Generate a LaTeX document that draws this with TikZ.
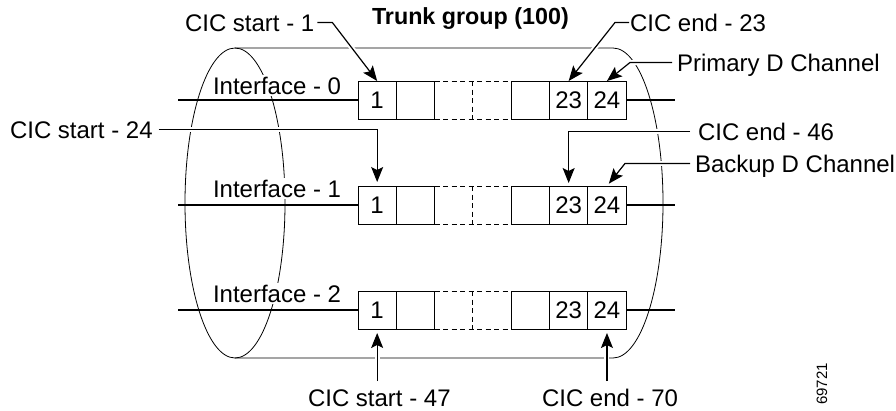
\documentclass[tikz,border=0pt]{standalone}
\usepackage{fontspec}
\setmainfont{Liberation Sans}
\usetikzlibrary{arrows.meta,calc}
\begin{document}
\begin{tikzpicture}[x=1pt,y=-1pt,
  every node/.style={font=\fontsize{24}{28}\selectfont},
  lbl/.style={inner sep=0pt, outer sep=0pt, text height=17pt, text depth=0pt, anchor=west},
  iflbl/.style={lbl, inner sep=2pt, fill=white},
  cell/.style={minimum width=38.3pt, minimum height=38pt, inner sep=0pt, outer sep=0pt},
  solidcell/.style={cell, draw, line width=0.9pt},
  dashcell/.style={line width=0.9pt, dash pattern=on 5pt off 3.5pt},
  wire/.style={line width=2.5pt},
  cyl/.style={line width=0.8pt},
  lead/.style={line width=1.2pt, -{Stealth[length=15pt,width=12pt,inset=3pt]}, preaction={draw=white, line width=5pt, -}}
]
\useasboundingbox (0,0) rectangle (896,410);

% cylinder
\coordinate (lt) at (235,48);
\coordinate (lb) at (235,358);
\coordinate (rt) at (613,48);
\draw[cyl] (235,203) ellipse [x radius=50pt, y radius=155pt];
\draw[cyl] (lt) -- (rt) arc[start angle=90, end angle=-90, x radius=50pt, y radius=155pt] -- (lb);

% labels
\node[lbl] (cs1)  at (185,22.5) {CIC start - 1};
\node[lbl, font=\fontsize{23.3}{28}\selectfont\bfseries] (tg) at (372,16) {Trunk group (100)};
\node[lbl] (ce23) at (630,22.5) {CIC end - 23};
\node[lbl] (pdc)  at (677,62.5) {Primary D Channel};
\node[lbl] (cs24) at (10,129.5) {CIC start - 24};
\node[lbl] (ce46) at (698,131.5) {CIC end - 46};
\node[lbl] (bdc)  at (695,163.5) {Backup D Channel};
\node[lbl] (cs47) at (308,397.5) {CIC start - 47};
\node[lbl] (ce70) at (542,397.5) {CIC end - 70};
\node[font=\fontsize{15}{18}\selectfont, rotate=90, inner sep=0pt] (fig) at (822,384) {69721};

% cells (positions only first, for leaders)
\foreach \r/\y in {0/100,1/205,2/310} {
  \node[cell] (c\r1) at (377.15,\y) {};
  \node[cell] (c\r2) at (415.45,\y) {};
  \node[cell] (c\r3) at (453.75,\y) {};
  \node[cell] (c\r4) at (492.05,\y) {};
  \node[cell] (c\r5) at (530.35,\y) {};
  \node[cell] (c\r6) at (568.65,\y) {};
  \node[cell] (c\r7) at (606.95,\y) {};
}

% leaders
\draw[lead] ($(cs1.east)+(3,0)$) -- ++(15,0) -- (c01.north);
\draw[lead, shorten >=4pt] ($(cs24.east)+(6,0)$) -| (c11.north);
\draw[lead, shorten >=4pt] ($(cs47.north -| c21.south)+(0,-8)$) -- (c21.south);
\draw[lead, shorten >=4pt] ($(ce70.north -| c27.south)+(0,-8)$) -- (c27.south);
\draw[lead] ($(ce23.west)+(-1,0)$) -- ++(-14,0) -- (c06.north);
\draw[lead] ($(pdc.west)+(-5,0)$) -- ++(-42,0) -- (c07.north);
\draw[lead, shorten >=3pt] ($(ce46.west)+(-8,0)$) -| (c16.north);
\draw[lead, shorten >=3pt] ($(bdc.west)+(-5,0)$) -- ++(-65,0) -- (c17.north);

% drawn cells and wires
\foreach \r/\y in {0/100,1/205,2/310} {
  \node[solidcell] at (c\r1) {1};
  \node[solidcell] at (c\r2) {};
  \node[solidcell] at (c\r5) {};
  \node[solidcell] at (c\r6) {23};
  \node[solidcell] at (c\r7) {24};
  \draw[dashcell] (c\r3.north west) -- (c\r4.north east)
                  (c\r3.south west) -- (c\r4.south east)
                  (c\r3.north east) -- (c\r3.south east);
  \coordinate (wl\r) at (178,\y);
  \coordinate (wr\r) at (675,\y);
  \draw[wire] (wl\r) -- (c\r1.west);
  \draw[wire] (c\r7.east) -- (wr\r);
}

% interface labels
\node[iflbl] (if0) at (211,85.5) {Interface - 0};
\node[iflbl] (if1) at (211,188.5) {Interface - 1};
\node[iflbl] (if2) at (211,293.5) {Interface - 2};
\end{tikzpicture}
\end{document}
